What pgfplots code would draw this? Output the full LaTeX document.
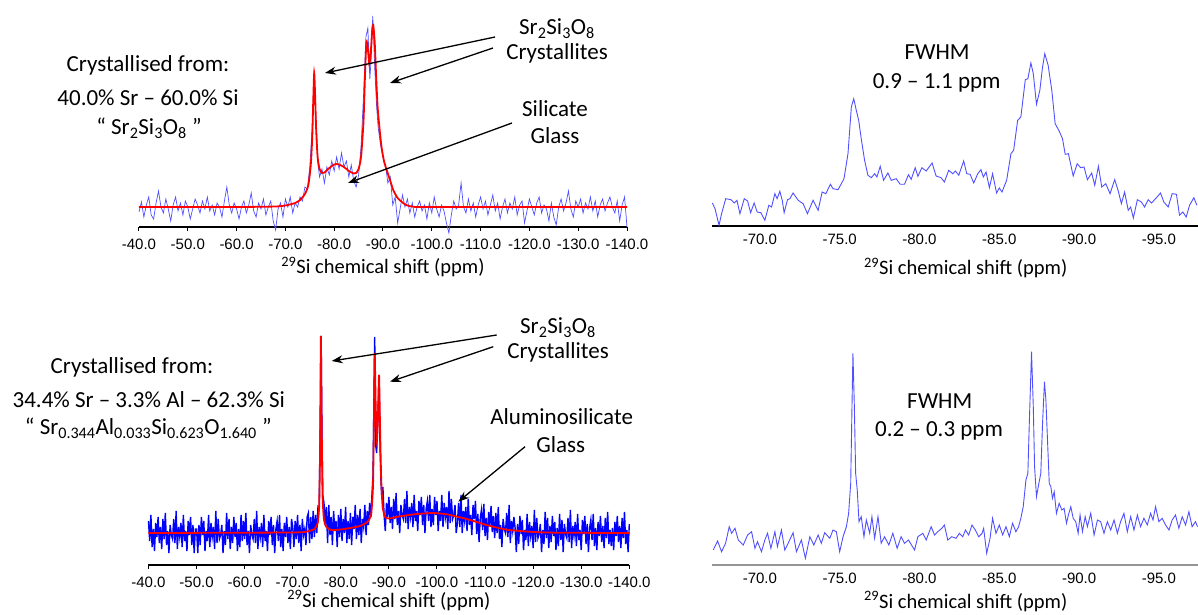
\documentclass[border=0pt]{standalone}
\usepackage{fontspec}
\setmainfont{Carlito}
\newfontfamily\arialfont{Liberation Sans}
\usepackage{pgfplots}
\pgfplotsset{compat=1.18}
\usetikzlibrary{arrows.meta}
\definecolor{bluea}{RGB}{80,80,255}
\definecolor{blueb}{RGB}{0,0,255}
\definecolor{axgray}{RGB}{150,150,150}
\pgfplotsset{
  specaxis/.style={
    scale only axis, axis y line=none, axis x line=bottom, x dir=reverse, clip=false,
    ymin=0,
    xticklabel style={font=\arialfont\fontsize{15}{18}\selectfont, anchor=base, yshift=-18.5pt},
    xlabel style={font=\fontsize{20.5}{24}\selectfont, at={(axis description cs:0.5,0)}, anchor=base},
    xlabel={\textsuperscript{29}Si chemical shift (ppm)},
  },
  leftaxis/.style={specaxis, xmin=-140, xmax=-40,
    xtick={-40,-50,-60,-70,-80,-90,-100,-110,-120,-130,-140},
    xticklabels={-40.0,-50.0,-60.0,-70.0,-80.0,-90.0,-100.0,-110.0,-120.0,-130.0,-140.0},
    tick align=outside, major tick length=4pt, xtick style={black, line width=1pt},
    x axis line style={-, black, line width=1.3pt}},
  rightaxis/.style={specaxis, xmin=-97.45, xmax=-67,
    xtick={-70,-75,-80,-85,-90,-95},
    xticklabels={-70.0,-75.0,-80.0,-85.0,-90.0,-95.0},
    major tick length=0pt},
}
\begin{document}
\begin{tikzpicture}
\useasboundingbox (0pt,0pt) rectangle (1198pt,615pt);

% ---------------- top-left ----------------
\begin{axis}[leftaxis, at={(139pt,388pt)}, anchor=south west, width=488pt, height=227pt, ymax=227,
  xlabel style={yshift=-47pt}]
\addplot[bluea, line width=0.7pt] table {
x y
-40 15
-40.5 25
-41 10
-41.5 22
-42 30
-42.5 12
-43 8
-43.5 24
-44 36
-44.5 20
-45 14
-45.5 28
-46 18
-46.5 6
-47 22
-47.5 30
-48 16
-48.5 24
-49 12
-49.5 26
-50 20
-50.5 8
-51 18
-51.5 28
-52 22
-52.5 14
-53 26
-53.5 18
-54 30
-54.5 16
-55 22
-55.5 12
-56 24
-56.5 20
-57 10
-57.5 26
-58 40
-58.5 22
-59 14
-59.5 24
-60 18
-60.5 8
-61 20
-61.5 26
-62 14
-62.5 22
-63 34
-63.5 16
-64 10
-64.5 24
-65 18
-65.5 28
-66 12
-66.5 20
-67 26
-67.5 6
-68 -3
-68.5 18
-69 24
-69.5 10
-70 28
-70.5 20
-71 30
-71.5 14
-72 24
-72.5 20
-73 30
-73.5 26
-74 40
-74.5 38
-75 60
-75.5 100
-75.9 150
-76.3 105
-76.7 62
-77 50
-77.5 58
-78 44
-78.5 60
-79 52
-79.5 66
-80 56
-80.5 70
-81 58
-81.5 74
-82 60
-82.5 66
-83 50
-83.5 62
-84 46
-84.5 40
-85 52
-85.5 80
-86 130
-86.5 190
-86.9 199
-87.3 148
-87.6 170
-87.9 211
-88.3 160
-88.7 120
-89 100
-89.5 82
-90 70
-90.5 62
-91 44
-91.5 50
-92 22
-92.5 30
-93 4
-93.5 18
-94 32
-94.5 20
-95 28
-95.5 14
-96 24
-96.5 10
-97 20
-97.5 26
-98 16
-98.5 22
-99 8
-99.5 24
-100 14
-100.5 30
-101 18
-101.5 10
-102 22
-102.5 16
-103 4
-103.5 -6
-104 12
-104.5 26
-105 18
-105.5 22
-106 44
-106.5 20
-107 14
-107.5 28
-108 16
-108.5 24
-109 10
-109.5 22
-110 30
-110.5 18
-111 26
-111.5 12
-112 22
-112.5 32
-113 16
-113.5 24
-114 8
-114.5 20
-115 28
-115.5 14
-116 24
-116.5 18
-117 30
-117.5 12
-118 22
-118.5 26
-119 4
-119.5 16
-120 28
-120.5 20
-121 12
-121.5 24
-122 30
-122.5 14
-123 22
-123.5 18
-124 6
-124.5 24
-125 10
-125.5 2
-126 20
-126.5 28
-127 16
-127.5 24
-128 36
-128.5 18
-129 10
-129.5 26
-130 20
-130.5 28
-131 14
-131.5 24
-132 18
-132.5 30
-133 16
-133.5 26
-134 10
-134.5 22
-135 28
-135.5 16
-136 24
-136.5 30
-137 20
-137.5 14
-138 26
-138.5 6
-139 22
-139.5 30
-140 0
};
\addplot[red, line width=1.8pt, smooth, tension=0.4] coordinates {
(-40,20) (-60,20) (-68,20.5) (-70,21.5) (-72,24) (-73,27) (-74,33) (-74.7,42) (-75.2,62)
(-75.5,90) (-75.7,125) (-75.9,154) (-76.1,130) (-76.3,98) (-76.6,70) (-77,58) (-77.5,54)
(-78,54.5) (-79,59) (-80,62.5) (-80.5,63) (-81,62.5) (-82,60) (-83,56) (-84,53.5) (-84.5,54)
(-85,58) (-85.5,70) (-86,105) (-86.3,150) (-86.6,185) (-86.9,178) (-87.2,163) (-87.5,175)
(-87.8,198) (-88,202) (-88.3,185) (-88.6,150) (-88.9,120) (-89.3,98) (-89.7,80) (-90.2,66)
(-90.75,57) (-91.5,46) (-92.1,37) (-93,29) (-94.2,23.7) (-95,21.5) (-96.2,20.3) (-100,20) (-140,20)
};
\end{axis}

% ---------------- top-right ----------------
\begin{axis}[rightaxis, at={(712pt,389pt)}, anchor=south west, width=486pt, height=226pt, ymax=226,
  x axis line style={-, black, line width=1.1pt},
  xlabel style={at={(axis description cs:0.522,0)}, yshift=-49pt}]
\addplot[bluea, line width=0.9pt] coordinates {
(-67.02,23) (-67.19,17.3) (-67.44,0.7) (-67.6,12.3) (-67.86,27.3) (-68.19,26.3) (-68.4,23) (-68.56,25.7)
(-68.75,12.3) (-69.02,27.3) (-69.23,25) (-69.42,13.3) (-69.64,23) (-69.83,14) (-70.06,13.3) (-70.31,5.7)
(-70.56,20.7) (-70.73,19) (-70.94,32.3) (-71.08,27.3) (-71.25,34.7) (-71.4,25.7) (-71.52,13.3) (-71.73,26.3)
(-71.88,27.3) (-72.08,33) (-72.4,25.7) (-72.71,22.3) (-72.98,12.3) (-73.33,25.7) (-73.65,15.7) (-73.9,34)
(-74.13,32.3) (-74.42,41.7) (-74.58,37.3) (-74.9,36.3) (-75.27,47.3) (-75.52,72.3) (-75.73,119) (-75.88,127.3)
(-76.04,115.7) (-76.19,105.7) (-76.35,87.3) (-76.56,65.7) (-76.77,50.7) (-76.98,48.3) (-77.19,52.3) (-77.33,49)
(-77.54,59.7) (-77.75,45.7) (-78.02,53) (-78.23,45.7) (-78.54,47.3) (-78.79,41.7) (-79.06,41.7) (-79.31,51.3)
(-79.48,46.7) (-79.73,58.3) (-79.9,49.7) (-80.15,58.3) (-80.42,55) (-80.79,63) (-81.04,50) (-81.35,48.3)
(-81.56,44) (-81.83,55.7) (-82.08,52.3) (-82.25,55) (-82.46,50.7) (-82.77,65) (-82.96,52.3) (-83.17,51.7)
(-83.4,43) (-83.65,52.3) (-83.85,56.3) (-84.0,49) (-84.17,54) (-84.38,38.3) (-84.58,52.3) (-84.83,33)
(-85.0,38) (-85.17,34) (-85.46,45.7) (-85.73,72.3) (-85.9,75.7) (-86.15,105.7) (-86.35,109) (-86.63,146.3)
(-86.79,147.3) (-86.98,163) (-87.13,152.3) (-87.33,121.7) (-87.54,135.7) (-87.71,159) (-87.85,172.3) (-88.06,160.7)
(-88.29,135.7) (-88.5,102.3) (-88.75,95) (-88.96,87.3) (-89.13,71.7) (-89.33,72.3) (-89.63,50) (-89.88,62.3)
(-90.1,58.3) (-90.31,59) (-90.52,46.3) (-90.79,53) (-90.98,40.7) (-91.21,59.7) (-91.42,39) (-91.67,42.3)
(-91.94,32.3) (-92.23,46.3) (-92.44,35.7) (-92.65,22.3) (-92.85,34) (-93.08,15.7) (-93.23,19) (-93.4,8)
(-93.65,26.3) (-93.9,24) (-94.1,19) (-94.33,26.3) (-94.54,23) (-94.79,27.3) (-95.1,33) (-95.31,24)
(-95.58,19) (-95.83,32.3) (-96.1,31.7) (-96.29,10.7) (-96.5,14) (-96.71,9) (-96.92,20.7) (-97.19,28.3) (-97.38,20.7)
};
\end{axis}

% ---------------- bottom-left ----------------
\begin{axis}[leftaxis, at={(148.5pt,50pt)}, anchor=south west, width=480.8pt, height=235pt, ymax=235,
  xlabel style={yshift=-42pt}]
\addplot[blueb, line width=1.4pt] coordinates {
(-40,44) (-40.25,24) (-40.5,50) (-40.75,18) (-41,36) (-41.25,14) (-41.5,42) (-41.75,28) (-42,48) (-42.25,22)
(-42.5,38) (-42.75,16) (-43,46) (-43.25,26) (-43.5,52) (-43.75,20) (-44,34) (-44.25,12) (-44.5,40) (-44.75,30)
(-45,26) (-45.25,46) (-45.5,22) (-45.75,54) (-46,16) (-46.25,38) (-46.5,28) (-46.75,42) (-47,18) (-47.25,50)
(-47.5,24) (-47.75,34) (-48,14) (-48.25,44) (-48.5,30) (-48.75,48) (-49,20) (-49.25,40) (-49.5,12) (-49.75,36)
(-50,36) (-50.25,12) (-50.5,40) (-50.75,20) (-51,48) (-51.25,30) (-51.5,44) (-51.75,14) (-52,34) (-52.25,24)
(-52.5,50) (-52.75,18) (-53,42) (-53.25,28) (-53.5,38) (-53.75,16) (-54,54) (-54.25,22) (-54.5,46) (-54.75,26)
(-55,30) (-55.25,40) (-55.5,12) (-55.75,34) (-56,20) (-56.25,52) (-56.5,26) (-56.75,46) (-57,16) (-57.25,38)
(-57.5,22) (-57.75,48) (-58,28) (-58.25,42) (-58.5,14) (-58.75,36) (-59,18) (-59.25,50) (-59.5,24) (-59.75,44)
(-60,26) (-60.25,52) (-60.5,20) (-60.75,34) (-61,12) (-61.25,40) (-61.5,30) (-61.75,26) (-62,46) (-62.25,22)
(-62.5,54) (-62.75,16) (-63,38) (-63.25,28) (-63.5,42) (-63.75,18) (-64,50) (-64.25,24) (-64.5,34) (-64.75,14)
(-65,44) (-65.25,30) (-65.5,48) (-65.75,20) (-66,40) (-66.25,12) (-66.5,36) (-66.75,44) (-67,24) (-67.25,50)
(-67.5,18) (-67.75,36) (-68,14) (-68.25,42) (-68.5,28) (-68.75,48) (-69,22) (-69.25,38) (-69.5,16) (-69.75,46)
(-70,38) (-70.25,18) (-70.5,44) (-70.75,26) (-71,50) (-71.25,22) (-71.5,40) (-71.75,14) (-72,46) (-72.25,30)
(-72.5,36) (-72.75,20) (-73,48) (-73.25,52) (-73.5,22) (-73.75,48) (-74,26) (-74.25,54) (-74.5,28) (-74.75,50)
(-75,32) (-75.25,58) (-75.5,56) (-75.75,150) (-75.9,229) (-76.1,120) (-76.25,70) (-76.5,62) (-76.75,40) (-77,58)
(-77.25,22) (-77.5,60) (-77.75,30) (-78,48) (-78.25,20) (-78.5,54) (-78.75,34) (-79,44) (-79.25,18) (-79.5,50)
(-79.75,28) (-80,56) (-80.25,24) (-80.5,46) (-80.75,32) (-81,58) (-81.25,22) (-81.5,44) (-81.75,26) (-82,52)
(-82.25,20) (-82.5,48) (-82.75,36) (-83,60) (-83.25,26) (-83.5,50) (-83.75,30) (-84,56) (-84.25,22) (-84.5,46)
(-84.75,38) (-85,60) (-85.25,30) (-85.5,54) (-85.75,40) (-86,62) (-86.25,48) (-86.5,72) (-86.7,90) (-86.85,150)
(-87.05,228) (-87.25,120) (-87.45,112) (-87.65,140) (-87.95,190) (-88.15,120) (-88.35,84) (-88.55,66) (-88.75,78) (-89,50)
(-89.25,34) (-89.5,62) (-89.75,48) (-90,68) (-90.25,42) (-90.5,58) (-90.75,36) (-91,66) (-91.25,46) (-91.5,72)
(-91.75,40) (-92,54) (-92.25,32) (-92.5,60) (-92.75,50) (-93,46) (-93.25,66) (-93.5,42) (-93.75,74) (-94,36)
(-94.25,58) (-94.5,48) (-94.75,62) (-95,38) (-95.25,70) (-95.5,44) (-95.75,54) (-96,34) (-96.25,64) (-96.5,50)
(-96.75,68) (-97,40) (-97.25,60) (-97.5,32) (-97.75,56) (-98,64) (-98.25,44) (-98.5,70) (-98.75,38) (-99,56)
(-99.25,40) (-99.5,68) (-99.75,50) (-100,64) (-100.25,34) (-100.5,54) (-100.75,44) (-101,70) (-101.25,38) (-101.5,62)
(-101.75,48) (-102,58) (-102.25,36) (-102.5,74) (-102.75,42) (-103,66) (-103.25,46) (-103.5,50) (-103.75,60) (-104,32)
(-104.25,42) (-104.5,62) (-104.75,38) (-105,70) (-105.25,32) (-105.5,54) (-105.75,44) (-106,58) (-106.25,34) (-106.5,66)
(-106.75,40) (-107,50) (-107.25,30) (-107.5,60) (-107.75,46) (-108,64) (-108.25,31) (-108.5,51) (-108.75,23) (-109,47)
(-109.25,55) (-109.5,35) (-109.75,61) (-110,29) (-110.25,47) (-110.5,25) (-110.75,53) (-111,39) (-111.25,59) (-111.5,33)
(-111.75,49) (-112,27) (-112.25,52) (-112.5,32) (-112.75,58) (-113,26) (-113.25,40) (-113.5,18) (-113.75,46) (-114,36)
(-114.25,32) (-114.5,52) (-114.75,28) (-115,60) (-115.25,22) (-115.5,44) (-115.75,34) (-116,48)
(-116.25,37) (-116.5,13) (-116.75,41) (-117,21) (-117.25,49) (-117.5,31) (-117.75,45) (-118,15) (-118.25,35) (-118.5,25)
(-118.75,51) (-119,19) (-119.25,43) (-119.5,29) (-119.75,39) (-120,17) (-120.25,55) (-120.5,23) (-120.75,47) (-121,27)
(-121.25,31) (-121.5,41) (-121.75,13) (-122,35) (-122.25,21) (-122.5,53) (-122.75,27) (-123,47) (-123.25,17) (-123.5,39)
(-123.75,23) (-124,49) (-124.25,29) (-124.5,43) (-124.75,15) (-125,37) (-125.25,19) (-125.5,51) (-125.75,25) (-126,45)
(-126.25,13) (-126.5,41) (-126.75,31) (-127,27) (-127.25,47) (-127.5,23) (-127.75,55) (-128,17) (-128.25,39) (-128.5,29)
(-128.75,43) (-129,19) (-129.25,51) (-129.5,25) (-129.75,35) (-130,15) (-130.25,45) (-130.5,31) (-130.75,49) (-131,21)
(-131.25,41) (-131.5,13) (-131.75,37) (-132,45) (-132.25,25) (-132.5,51) (-132.75,19) (-133,37) (-133.25,15) (-133.5,43)
(-133.75,29) (-134,49) (-134.25,23) (-134.5,39) (-134.75,17) (-135,47) (-135.25,27) (-135.5,53) (-135.75,21) (-136,35)
(-136.25,19) (-136.5,37) (-136.75,15) (-137,43) (-137.25,29) (-137.5,49) (-137.75,23) (-138,39) (-138.25,17) (-138.5,47)
(-138.75,27) (-139,53) (-139.25,21) (-139.5,35) (-139.75,13) (-140,41)
};
\addplot[red, line width=1.8pt, smooth, tension=0.3] coordinates {
(-40,32) (-70,32.5) (-73,33.5) (-74.5,36) (-75.2,42) (-75.5,60) (-75.7,120) (-75.85,229) (-76.0,150)
(-76.2,70) (-76.5,45) (-77,38) (-78,35) (-80,35.5) (-82,37) (-84,39) (-85.5,43) (-86.3,50) (-86.7,80)
(-86.9,150) (-87.05,212) (-87.25,160) (-87.5,125) (-87.75,150) (-87.95,190) (-88.15,140) (-88.4,85)
(-88.7,58) (-89.2,48) (-90,46.5) (-92.3,48.7) (-95.8,51) (-99.2,52) (-102,50.7) (-106.2,46) (-110.3,40)
(-114.5,35.3) (-120,33) (-125,32.3) (-140,32)
};
\end{axis}

% ---------------- bottom-right ----------------
\begin{axis}[rightaxis, at={(712pt,50pt)}, anchor=south west, width=486pt, height=226pt, ymax=226,
  x axis line style={-, axgray, line width=2pt},
  xlabel style={at={(axis description cs:0.522,0)}, yshift=-43pt}]
\addplot[bluea, line width=0.9pt] coordinates {
(-67.08,15) (-67.35,24) (-67.6,13.3) (-67.85,21.7) (-68.08,38.3) (-68.23,31.7) (-68.44,36.7) (-68.65,25)
(-68.96,20) (-69.23,30) (-69.48,33.3) (-69.69,16.7) (-69.85,23.3) (-70.1,13.3) (-70.31,25) (-70.48,31.7)
(-70.69,16.7) (-70.94,33.3) (-71.1,18.3) (-71.35,35) (-71.56,15) (-71.77,21.7) (-72.08,32.3) (-72.29,13.3)
(-72.6,25) (-72.85,6.7) (-73.13,28.3) (-73.38,20) (-73.65,30) (-73.85,21.7) (-74.06,32.3) (-74.38,26.7)
(-74.58,35) (-74.79,33.3) (-75.0,13.3) (-75.21,28.3) (-75.42,38.3) (-75.56,51.7) (-75.69,81.7) (-75.77,158)
(-75.83,211.7) (-75.92,158) (-76.0,91.7) (-76.1,75) (-76.21,43.3) (-76.35,48.3) (-76.52,28.3) (-76.67,45)
(-76.88,31.7) (-77.02,48.3) (-77.19,26.7) (-77.4,48.3) (-77.6,21.7) (-77.81,28.3) (-78.08,20) (-78.33,31.7)
(-78.6,16.7) (-78.85,28.3) (-79.06,21.7) (-79.31,25) (-79.69,15) (-79.9,28.3) (-80.21,31.7) (-80.42,25)
(-80.73,38.3) (-80.94,30) (-81.15,33.3) (-81.4,36.7) (-81.56,40) (-81.77,25) (-82.02,28.3) (-82.29,26.7)
(-82.5,31.7) (-82.71,28.3) (-82.88,35) (-83.08,30) (-83.29,40) (-83.5,35) (-83.71,28.3) (-83.92,31.7)
(-84.02,36.7) (-84.21,11.7) (-84.42,26.7) (-84.58,46.7) (-84.79,31.7) (-85.0,40) (-85.21,30) (-85.42,38.3)
(-85.63,28.3) (-85.83,41.7) (-86.04,33.3) (-86.21,38.3) (-86.35,46.7) (-86.5,58.3) (-86.67,85) (-86.79,91.7)
(-86.88,141.7) (-87.02,213.3) (-87.13,158.3) (-87.21,98.3) (-87.33,68.3) (-87.46,80) (-87.6,91.7) (-87.71,141.7)
(-87.83,183.3) (-87.92,165) (-88.02,125) (-88.13,81.7) (-88.23,78.3) (-88.33,66.7) (-88.44,73.3) (-88.58,51.7)
(-88.75,61.7) (-88.92,55) (-89.06,56.7) (-89.21,41.7) (-89.33,50) (-89.48,58.3) (-89.63,46.7) (-89.79,43.3)
(-89.94,31.7) (-90.06,50) (-90.21,33.3) (-90.38,48.3) (-90.52,38.3) (-90.73,51.7) (-90.94,30) (-91.15,45)
(-91.35,43.3) (-91.56,31.7) (-91.77,43.3) (-91.98,35) (-92.19,45) (-92.4,31.7) (-92.6,43.3) (-92.81,51.7)
(-93.02,33.3) (-93.23,48.3) (-93.44,35) (-93.65,50) (-93.85,38.3) (-94.06,46.7) (-94.27,40) (-94.48,51.7)
(-94.63,45) (-94.79,58.3) (-95.0,43.3) (-95.21,46.7) (-95.42,40) (-95.63,35) (-95.83,45) (-96.04,50)
(-96.25,36.7) (-96.46,48.3) (-96.67,40) (-96.88,53.3) (-97.08,38.3) (-97.29,43.3) (-97.42,38.3)
};
\end{axis}

% ---------------- annotations ----------------
\tikzset{lbl/.style={anchor=base, font=\fontsize{23}{27}\selectfont, inner sep=0pt},
         arr/.style={-{Stealth[length=11pt,width=8pt]}, line width=1.3pt, black}}
\node[lbl] at (148pt,543pt) {Crystallised from:};
\node[lbl] at (148pt,509pt) {40.0\% Sr – 60.0\% Si};
\node[lbl] at (149pt,480pt) {“ Sr\textsubscript{2}Si\textsubscript{3}O\textsubscript{8} ”};
\node[lbl] at (557pt,580pt) {Sr\textsubscript{2}Si\textsubscript{3}O\textsubscript{8}};
\node[lbl] at (557pt,555pt) {Crystallites};
\node[lbl] at (555pt,498pt) {Silicate};
\node[lbl] at (555pt,471pt) {Glass};
\draw[arr] (495pt,578pt) -- (325pt,542pt);
\draw[arr] (493pt,567pt) -- (390pt,532pt);
\draw[arr] (512pt,492pt) -- (348pt,432pt);

\node[lbl] at (132pt,241.7pt) {Crystallised from:};
\node[lbl] at (148.8pt,207.7pt) {34.4\% Sr – 3.3\% Al – 62.3\% Si};
\node[lbl] at (148.3pt,180pt) {“ Sr\textsubscript{0.344}Al\textsubscript{0.033}Si\textsubscript{0.623}O\textsubscript{1.640} ”};
\node[lbl] at (558pt,281.7pt) {Sr\textsubscript{2}Si\textsubscript{3}O\textsubscript{8}};
\node[lbl] at (558pt,256.7pt) {Crystallites};
\node[lbl] at (561.7pt,190pt) {Aluminosilicate};
\node[lbl] at (560.8pt,162.3pt) {Glass};
\draw[arr] (496.7pt,280pt) -- (331.7pt,254pt);
\draw[arr] (493.3pt,268.3pt) -- (390pt,233.3pt);
\draw[arr] (525pt,168.3pt) -- (458.3pt,113.3pt);

\node[lbl] at (937pt,555pt) {FWHM};
\node[lbl] at (936.7pt,526.7pt) {0.9 – 1.1 ppm};
\node[lbl] at (939.7pt,206.7pt) {FWHM};
\node[lbl] at (939pt,178.3pt) {0.2 – 0.3 ppm};
\end{tikzpicture}
\end{document}
